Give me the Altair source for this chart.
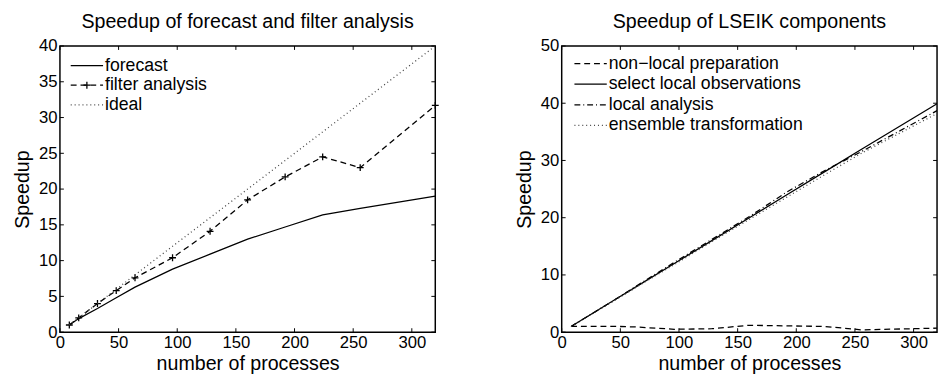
import altair as alt
import pandas as pd

# ---------------- data ----------------
procs = [8, 16, 32, 48, 64, 96, 128, 160, 192, 224, 256, 320]

# left panel
forecast = [1.0, 1.9, 3.3, 4.8, 6.3, 8.8, 10.9, 13.0, 14.7, 16.4, 17.3, 19.0]
filter_analysis = [1.0, 2.0, 4.0, 5.8, 7.6, 10.4, 14.1, 18.5, 21.7, 24.5, 23.0, 31.7]
ideal_procs = [8, 320]
ideal_speedup = [1.0, 40.0]

# right panel
nonlocal_prep = [1.0, 1.0, 1.0, 1.0, 0.9, 0.5, 0.6, 1.2, 1.1, 1.0, 0.4, 0.7]
select_local = [1.0, 2.0, 4.0, 6.0, 8.0, 12.0, 16.0, 20.0, 24.0, 28.0, 32.0, 39.9]
local_analysis = [1.0, 2.0, 4.0, 6.0, 8.1, 12.2, 16.2, 20.2, 24.5, 28.2, 31.6, 38.7]
ensemble_transform = [1.0, 2.0, 3.9, 5.9, 7.9, 11.8, 15.8, 19.7, 23.6, 27.5, 31.3, 38.2]

x_ticks = [0, 50, 100, 150, 200, 250, 300]
y_ticks_left = [0, 5, 10, 15, 20, 25, 30, 35, 40]
y_ticks_right = [0, 10, 20, 30, 40, 50]

left_title = "Speedup of forecast and filter analysis"
right_title = "Speedup of LSEIK components"
x_title = "number of processes"
y_title = "Speedup"
left_labels = ["forecast", "filter analysis", "ideal"]
right_labels = ["non\u2212local preparation", "select local observations",
                "local analysis", "ensemble transformation"]

# ---------------- style ----------------
FONT = "Liberation Sans"
W, H = 383, 292
TICK = 4
SW = 1.3
DASH = [6, 4]
DOT = [1, 3]
DASHDOT = [6, 3, 1, 3]
PLUS = "M-1,0H1M0,-1V1"


def enc_x(xmax):
    return alt.X("x:Q", title=x_title,
                 scale=alt.Scale(domain=[0, xmax], nice=False, zero=False),
                 axis=alt.Axis(values=x_ticks, format="d"))


def enc_y(ymax, vals):
    return alt.Y("y:Q", title=y_title,
                 scale=alt.Scale(domain=[0, ymax], nice=False, zero=False),
                 axis=alt.Axis(values=vals, format="d"))


def line(xs, ys, dash, xmax, ymax, yvals, color="black"):
    df = pd.DataFrame({"x": xs, "y": ys})
    kw = dict(color=color, strokeWidth=SW, clip=True)
    if dash:
        kw["strokeDash"] = dash
    return alt.Chart(df).mark_line(**kw).encode(x=enc_x(xmax), y=enc_y(ymax, yvals))


def ticks(xmax, ymax, yvals):
    tx = pd.DataFrame({"x": x_ticks})
    ty = pd.DataFrame({"y": yvals})
    r = dict(color="black", strokeWidth=1)
    xb = alt.Chart(tx).mark_rule(**r).encode(x=enc_x(xmax), y=alt.value(H), y2=alt.value(H - TICK))
    xt = alt.Chart(tx).mark_rule(**r).encode(x=enc_x(xmax), y=alt.value(0), y2=alt.value(TICK))
    yl = alt.Chart(ty).mark_rule(**r).encode(y=enc_y(ymax, yvals), x=alt.value(0), x2=alt.value(TICK))
    yr = alt.Chart(ty).mark_rule(**r).encode(y=enc_y(ymax, yvals), x=alt.value(W), x2=alt.value(W - TICK))
    return [xb, xt, yl, yr]


def legend_entry(label, dash, x0, x1, tx, yy, marker=False, color="black"):
    layers = []
    kw = dict(color=color, strokeWidth=SW)
    if dash:
        kw["strokeDash"] = dash
    layers.append(alt.Chart(pd.DataFrame({"l": [label]})).mark_rule(**kw).encode(
        x=alt.value(x0), x2=alt.value(x1), y=alt.value(yy)))
    if marker:
        layers.append(alt.Chart(pd.DataFrame({"l": [label]})).mark_point(
            shape=PLUS, size=49, filled=False, stroke="black", strokeWidth=1.3, opacity=1).encode(
            x=alt.value((x0 + x1) / 2), y=alt.value(yy)))
    layers.append(alt.Chart(pd.DataFrame({"l": [label]})).mark_text(
        align="left", baseline="middle", font=FONT, fontSize=18, color="black").encode(
        x=alt.value(tx), y=alt.value(yy), text="l:N"))
    return layers


DOTC = "#444444"

# ---------------- left panel ----------------
LX, LY = 320, 40
fa_df = pd.DataFrame({"x": procs, "y": filter_analysis})
left_layers = [
    line(procs, forecast, None, LX, LY, y_ticks_left),
    line(procs, filter_analysis, DASH, LX, LY, y_ticks_left),
    alt.Chart(fa_df).mark_point(shape=PLUS, size=49, filled=False, stroke="black",
                                strokeWidth=1.3, opacity=1).encode(
        x=enc_x(LX), y=enc_y(LY, y_ticks_left)),
    line(ideal_procs, ideal_speedup, DOT, LX, LY, y_ticks_left, color=DOTC),
]
left_layers += ticks(LX, LY, y_ticks_left)
left_layers += legend_entry(left_labels[0], None, 11, 44, 46, 20)
left_layers += legend_entry(left_labels[1], DASH, 11, 44, 46, 40, marker=True)
left_layers += legend_entry(left_labels[2], DOT, 11, 44, 46, 60, color=DOTC)

left = alt.layer(*left_layers).properties(
    width=W, height=H,
    title=alt.TitleParams(left_title, font=FONT, fontSize=20, fontWeight="normal",
                          color="black", offset=5))

# ---------------- right panel ----------------
RX, RY = 320, 50
right_layers = [
    line(procs, nonlocal_prep, DASH, RX, RY, y_ticks_right),
    line(procs, select_local, None, RX, RY, y_ticks_right),
    line(procs, local_analysis, DASHDOT, RX, RY, y_ticks_right),
    line(procs, ensemble_transform, DOT, RX, RY, y_ticks_right, color=DOTC),
]
right_layers += ticks(RX, RY, y_ticks_right)
right_layers += legend_entry(right_labels[0], DASH, 13, 46, 48, 18)
right_layers += legend_entry(right_labels[1], None, 13, 46, 48, 39)
right_layers += legend_entry(right_labels[2], DASHDOT, 13, 46, 48, 60)
right_layers += legend_entry(right_labels[3], DOT, 13, 46, 48, 81, color=DOTC)

right = alt.layer(*right_layers).properties(
    width=W, height=H,
    title=alt.TitleParams(right_title, font=FONT, fontSize=20, fontWeight="normal",
                          color="black", offset=5))

chart = alt.hconcat(left, right, spacing=73).properties(
    padding={"left": 4, "top": 0, "right": 0, "bottom": 0}
).configure_view(
    stroke="black", strokeWidth=1.5
).configure_axis(
    domain=False, ticks=False, grid=False,
    labelFont=FONT, labelFontSize=17, labelColor="black", labelPadding=3,
    labelFlush=False, labelOverlap=False,
    titleFont=FONT, titleFontSize=20, titleColor="black", titleFontWeight="normal",
).configure_axisX(titlePadding=3).configure_axisY(titlePadding=6)

chart.save("out.html", embed_options={"renderer": "svg", "actions": False})
